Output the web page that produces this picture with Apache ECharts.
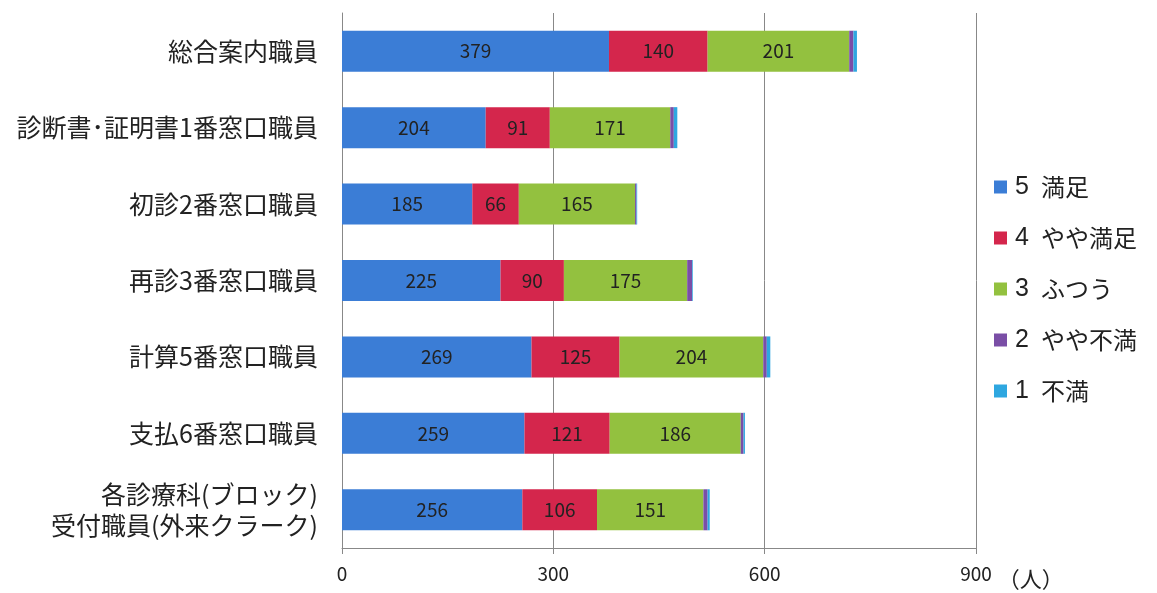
<!DOCTYPE html>
<html><head><meta charset="utf-8">
<script src="https://cdn.jsdelivr.net/npm/echarts@6/dist/echarts.min.js"></script>
<style>html,body{margin:0;padding:0;background:#fff}#c{width:1157px;height:593px}</style>
</head><body><div id="c"></div>
<script>
const categories = ['総合案内職員','診断書･証明書1番窓口職員','初診2番窓口職員','再診3番窓口職員','計算5番窓口職員','支払6番窓口職員','各診療科(ブロック)\n受付職員(外来クラーク)'];
const seriesNames = ['5 満足','4 やや満足','3 ふつう','2 やや不満','1 不満'];
const s5 = [379,204,185,225,269,259,256];
const s4 = [140,91,66,90,125,121,106];
const s3 = [201,171,165,175,204,186,151];
const s2 = [6,5,2,7,5,4,6];
const s1 = [5,5,1,1,5,2,3];
const xTicks = [0,300,600,900];
const colors = ['#3b7dd6','#d4264c','#93c13f','#7a4ea6','#2ea7e0'];
const font = '"Noto Sans CJK JP", "Noto Sans", sans-serif';
const data = [s5,s4,s3,s2,s1];
const chart = echarts.init(document.getElementById('c'));
chart.setOption({
  animation:false,
  textStyle:{fontFamily:font},
  grid:{left:342,right:181,top:13,bottom:45,containLabel:false,outerBoundsMode:'none'},
  legend:{
    orient:'vertical', left:989, top:168, itemWidth:13, itemHeight:13, itemGap:23,
    icon:'rect',
    formatter: function(name){ const p = name.split(' '); return '{n|' + p[0] + '}{t|' + p[1] + '}'; },
    textStyle:{fontSize:24,color:'#222',fontFamily:font,lineHeight:28,
      rich:{
        n:{fontSize:25,lineHeight:28,verticalAlign:'middle',color:'#222',fontFamily:'"Liberation Sans", Arial, sans-serif',padding:[0,12,0,3]},
        t:{fontSize:24,lineHeight:28,verticalAlign:'middle',color:'#222',fontFamily:font}
      }
    },
    data:seriesNames
  },
  xAxis:{
    type:'value', min:xTicks[0], max:xTicks[xTicks.length-1], interval:300,
    axisLine:{show:true,lineStyle:{color:'#888',width:1}},
    axisTick:{show:true,length:6,lineStyle:{color:'#888'}},
    splitLine:{show:true,lineStyle:{color:'#888',width:1}},
    axisLabel:{fontSize:19,color:'#222',margin:16,fontFamily:font},
    name:'（人）', nameLocation:'end', nameGap:20,
    nameTextStyle:{fontSize:22,color:'#222',padding:[20,0,0,0],verticalAlign:'top'}
  },
  yAxis:{
    type:'category', inverse:true, data:categories,
    axisLine:{show:true,lineStyle:{color:'#888'}},
    axisTick:{show:false},
    axisLabel:{fontSize:25,color:'#222',margin:24,lineHeight:31,fontFamily:font}
  },
  series: data.map((d,i)=>({
    name:seriesNames[i], type:'bar', stack:'t', barWidth:41,
    data:d,
    itemStyle:{color:colors[i]},
    label:{show:i<3, position:'inside', fontSize:19, color:'#222', fontFamily:font}
  }))
});
</script></body></html>
